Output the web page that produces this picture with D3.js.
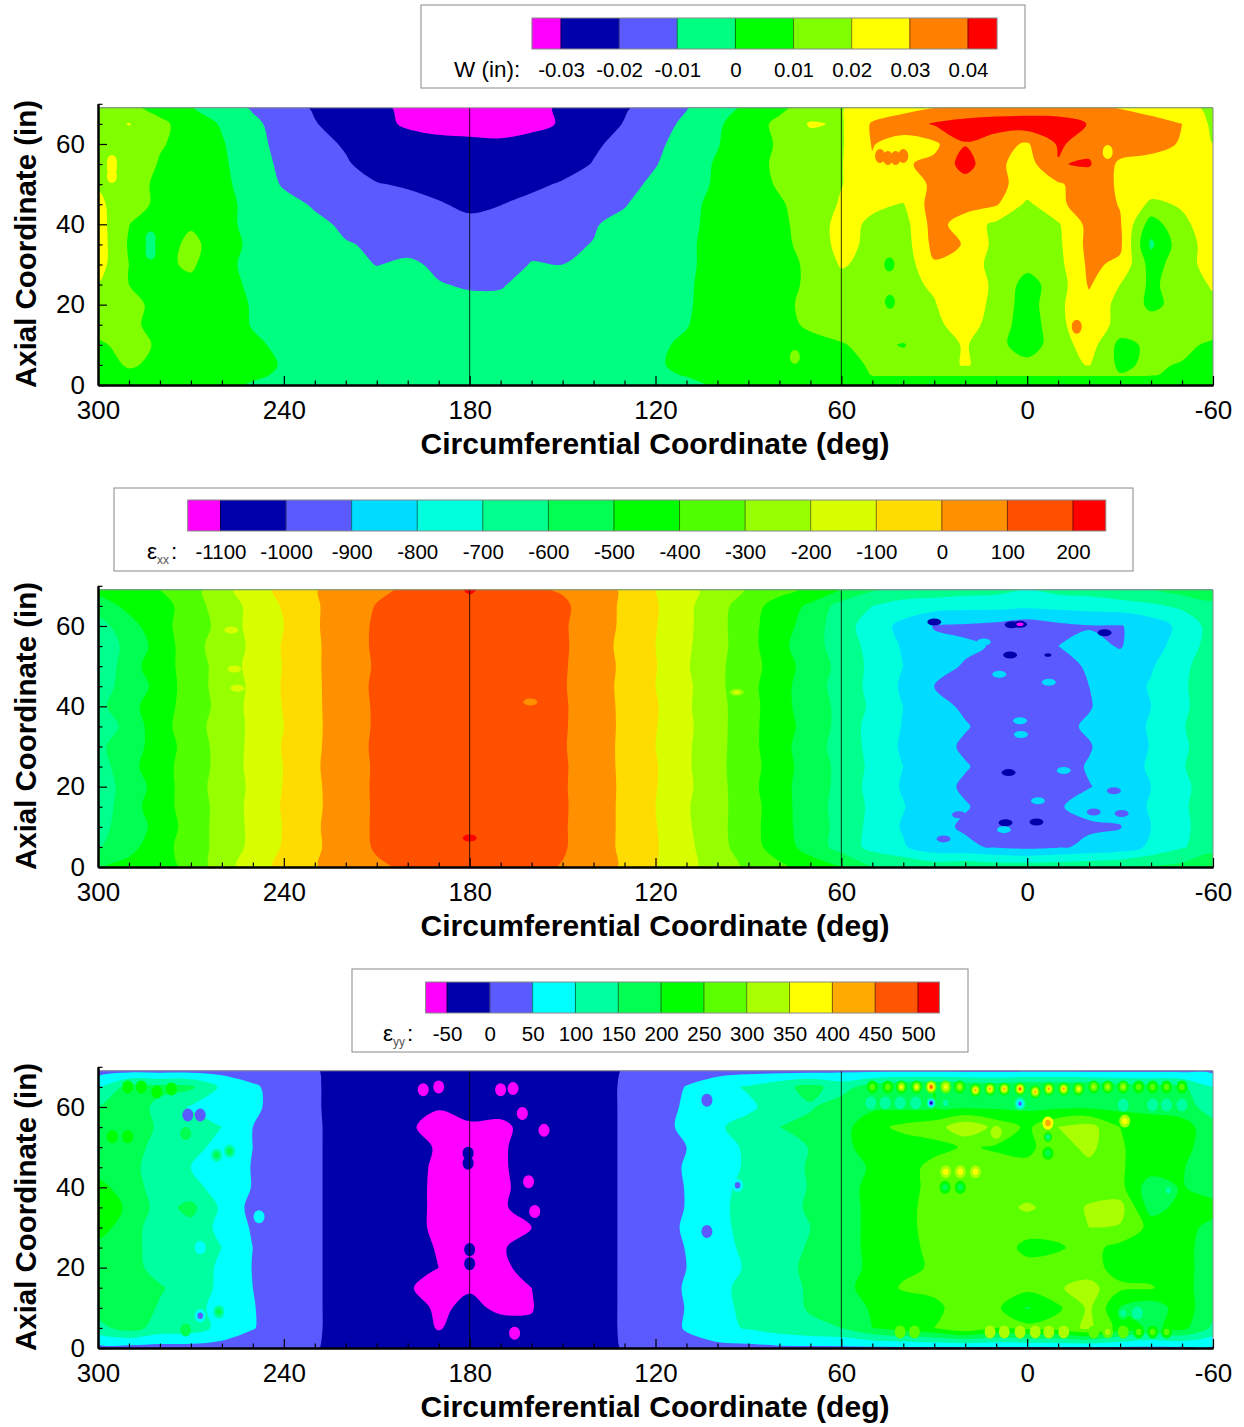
<!DOCTYPE html>
<html>
<head>
<meta charset="utf-8">
<script src="https://cdn.jsdelivr.net/npm/d3@7"></script>
<style>
  body { margin: 0; background: #fff; }
  text { font-family: "Liberation Sans", Arial, sans-serif; fill: #000; }
  .tick-label text { font-size: 26px; }
  .legend-axis text { font-size: 20.5px; }
  .axis-title { font-size: 30px; font-weight: bold; }
</style>
</head>
<body>
<div id="chart"></div>
<script>
/* DATA */
// grid nodes: columns run 300 -> -60 deg, rows run from the top of the shell down
const circumDeg = d3.range(37).map(i => 300 - 10 * i);
const axialIn = [69, 65, 60, 55, 50, 45, 40, 35, 30, 25, 20, 15, 10, 5, 0];
const axialInW = [69, 65, 60, 55, 50, 45, 40, 35, 30, 25, 20, 15, 10, 5, 2.5, 0];

const xMajor = [300, 240, 180, 120, 60, 0, -60];
const xMinor = [290, 280, 270, 260, 250, 230, 220, 210, 200, 190, 170, 160, 150, 140, 130, 110, 100, 90, 80, 70, 50, 40, 30, 20, 10, -10, -20, -30, -40, -50];
const yMajor = [0, 20, 40, 60];
const yMinor = [5, 10, 15, 25, 30, 35, 45, 50, 55, 65, 70];

// W, in thousandths of an inch
const wLevels = [-30, -20, -10, 0, 10, 20, 30, 40];
const wLabels = ["-0.03", "-0.02", "-0.01", "0", "0.01", "0.02", "0.03", "0.04"];
const wColors = ["#ff00ff", "#0000aa", "#5a5aff", "#00ff80", "#00ff00", "#80ff00", "#ffff00", "#ff8000", "#ff0000"];
const wGrid = [
  [15,12,7,0.5,-5,-11,-16,-21,-25,-29,-31,-33, -34,-34,-32,-29,-25,-21,-16,-10.5,-4,2,8,14, 19.5,24,27,29.8,32,33,34,34,32,29.5,26,23,18],
  [14,20.5,12,6,-1,-8,-14,-19.5,-24,-28,-31,-33, -34.5,-35,-33,-29,-25,-19.5,-14,-8,-1.5,6,12,21, 19,31,35,41,44,46,46,45,39.5,37,34,30,18],
  [13,15,11,6,1,-8,-12,-17,-21,-25,-27,-27.5, -27.5,-28,-26,-25,-21.5,-17,-12,-6,-0.5,6,11,16, 19,30.5,26,28,39.5,33,29,41,37,36,34,29,20],
  [15,19,9,6,2,-7,-11.5,-15.5,-19,-24,-26,-27.5, -28.5,-28,-27,-24,-19.5,-15.5,-10.5,-4.5,1,6,12,16, 19.5,29,29,32,44,32,26,39.5,41,28,26,25,22],
  [19,14,8,5,2,-4,-11,-14,-17,-19.5,-21,-24, -26,-25,-22,-19,-16.5,-13,-8,-3,1,6,11,16, 19.7,25,27,31,36,32,27,29,34,29,26,25,24],
  [22,14,8,5,2,-2,-7,-11,-13,-15,-17,-19, -22.5,-20.2,-17.5,-15,-13,-10.5,-6,-2,2,6,9,14, 21,22,19.5,35,34,31,18,28,35,29.5,18,21,25],
  [24,10.2,3,8,1.5,-1.5,-4,-8,-11.5,-13,-14,-15.5, -17,-17,-15,-13,-10.5,-8,-5,-1.5,2,5,8.5,13, 24,18,16,34,25,18,16,19,33,31,5,18,25],
  [25,9,2,14,2,-1,-4,-7,-9.5,-11,-12,-14, -15,-14,-11.5,-11,-9.8,-7,-5,-1.5,3,6,8.5,12, 24,17,15,33,29.5,17,15,18,33,32,-2,16,24],
  [24,10,7,12,1,-1,-3,-6,-8,-10.2,-9,-11, -13,-12.5,-9.7,-10,-7.5,-5.5,-4,-1.5,3,6,8,11, 21,17,14,29,26,16,13,17,32,28,6,15,25],
  [19.5,10,6,7,2,-1,-2.5,-4,-5.5,-7.5,-8,-9.7, -10.6,-10.5,-8,-7.5,-5.5,-4,-3,-1,3,6,8,11, 16,15,18,21,26,18,6,15,31,20,8,15,21],
  [17,12,8,6,3,-0.5,-2,-3,-4,-5,-6,-7.5, -8.5,-8.5,-6.5,-5,-4,-3,-2,-0.8,3,6,8,12, 15,14,16,19.5,26,17,5,18,27,17,8,13,18],
  [15,12,7,5,2.5,-0.3,-1.5,-2.5,-3,-3.5,-4,-5, -5.5,-5.5,-4.5,-3.5,-3,-2.5,-1.5,-0.3,3,6,8,11, 13,14,15,18,24,16,4,17,28,16,14,15,18],
  [8,14,8.5,5,3,0.8,-1,-2,-2.5,-3,-3,-3.5, -3.5,-3.5,-3,-3,-2.5,-2,-1,1,4,6,7,8, 9.5,12,9.5,15,21,13,5,15,25,7,12,14,7],
  [6,11,8,6,4,2,-0.5,-1.5,-2,-2,-2,-2.5, -2.5,-2.5,-2,-2,-2,-1.5,-0.5,1,3,4,5,6, 7,11,13,15,21,15,13,17,20.5,8,12,9,5],
  [5,8,6,4.5,2.5,0.8,-0.7,-1.2,-1.5,-1.5,-1.5,-1.7, -1.7,-1.7,-1.5,-1.5,-1.5,-1.2,-0.7,0.2,1.8,3.5,4,4.5, 5.5,10.3,10.5,10.5,10.5,10.5,10.5,10.5,10.5,10.5,10.3,9,4.5],
  [4,5,4,3,1,-0.5,-1,-1,-1,-1,-1,-1, -1,-1,-1,-1,-1,-1,-1,-1,0.5,3,3,3, 4,6,6,6,6,6,6,6,6,6,6,6,4]
];
// small islands the grid is too coarse for: [deg, in, value]
const wSpots = [
  [295.5, 55.5, 25], [295.5, 54, 25], [295.5, 52, 25], [283, 36.5, -5], [283, 34.5, -5], [283, 33, -5], [-26, 58, 28], [44.3, 20.7, 8], [44.5, 30, 8], [75, 7, 12], [-16, 14.5, 32],
  [50, 57.5, 33], [47.5, 57, 33], [45, 56.5, 33], [42.5, 56.5, 33], [40, 57, 33], [50, 60, 33], [48, 60, 33]
];

// eps xx, microstrain
const exxLevels = [-1100, -1000, -900, -800, -700, -600, -500, -400, -300, -200, -100, 0, 100, 200];
const exxLabels = exxLevels.map(String);
const exxColors = ["#ff00ff", "#0000aa", "#5a5aff", "#00dcff", "#00ffdc", "#00ff8c", "#00ff50", "#00ff00", "#50ff00", "#96ff00", "#d8ff00", "#ffdc00", "#ff9000", "#ff5000", "#ff0000"];
const exxGrid = [
  [-470,-430,-400,-340,-230,-150,-70,-5,40,80,115,155, 210,160,115,90,50,-15,-100,-170,-240,-310,-370,-420, -500,-590,-640,-640,-660,-670,-700,-670,-660,-620,-600,-560,-560],
  [-560,-470,-450,-340,-260,-170,-90,-10,45,105,135,160, 175,170,150,120,45,-15,-90,-180,-260,-360,-440,-520, -640,-700,-740,-760,-770,-770,-780,-770,-760,-750,-720,-680,-620],
  [-640,-540,-430,-355,-270,-165,-100,-10,50,115,145,165, 172,170,150,112,50,-18,-95,-180,-265,-370,-455,-545, -660,-745,-830,-905,-915,-930,-960,-925,-905,-905,-860,-770,-660],
  [-670,-570,-460,-340,-250,-185,-90,-15,55,115,148,168, 172,172,152,115,45,-25,-100,-185,-265,-365,-470,-565, -640,-735,-810,-880,-890,-905,-920,-900,-880,-905,-850,-745,-665],
  [-690,-540,-440,-360,-255,-170,-95,-12,45,112,142,165, 170,170,150,110,52,-20,-95,-190,-280,-355,-455,-540, -630,-725,-800,-880,-905,-920,-930,-915,-895,-870,-810,-720,-650],
  [-650,-555,-470,-345,-265,-180,-90,-15,50,118,145,165, 170,170,148,108,50,-25,-100,-180,-275,-370,-460,-560, -635,-730,-815,-900,-925,-945,-960,-945,-900,-860,-790,-710,-660],
  [-630,-530,-445,-355,-270,-170,-95,-15,48,114,145,165, 172,172,150,112,48,-20,-90,-185,-270,-360,-465,-550, -625,-720,-800,-880,-910,-950,-970,-950,-905,-860,-800,-720,-640],
  [-680,-560,-440,-340,-260,-180,-100,-18,52,112,145,168, 170,170,152,110,52,-20,-95,-180,-265,-370,-455,-540, -630,-740,-805,-870,-895,-925,-950,-920,-890,-850,-790,-710,-620],
  [-620,-545,-455,-355,-265,-175,-92,-15,50,118,146,165, 170,168,148,108,50,-22,-100,-185,-270,-365,-465,-555, -640,-730,-815,-875,-910,-940,-960,-940,-905,-860,-795,-715,-650],
  [-650,-530,-440,-350,-270,-170,-98,-12,55,112,145,165, 172,170,150,112,48,-20,-92,-185,-275,-360,-455,-550, -625,-725,-800,-870,-895,-925,-945,-925,-895,-855,-785,-705,-660],
  [-640,-570,-450,-345,-260,-182,-95,-15,48,116,148,168, 172,170,152,110,50,-18,-95,-180,-268,-365,-470,-545, -630,-735,-810,-875,-910,-940,-950,-930,-902,-880,-800,-720,-655],
  [-660,-540,-445,-350,-268,-172,-90,-18,52,113,145,165, 170,170,150,112,50,-20,-100,-190,-270,-355,-460,-555, -635,-720,-795,-865,-895,-925,-945,-905,-880,-860,-790,-715,-645],
  [-630,-555,-465,-355,-262,-178,-95,-12,50,115,147,165, 172,170,150,110,50,-20,-95,-185,-270,-360,-460,-550, -630,-730,-810,-880,-910,-930,-960,-925,-910,-905,-800,-720,-650],
  [-610,-530,-440,-350,-265,-175,-90,-15,48,112,140,160, 165,165,148,110,48,-20,-90,-175,-265,-355,-450,-540, -640,-730,-790,-865,-885,-910,-925,-910,-885,-860,-780,-710,-640],
  [-510,-470,-430,-380,-240,-150,-70,-5,40,85,115,135, 150,145,120,95,50,-15,-95,-170,-250,-320,-380,-450, -500,-600,-610,-640,-620,-640,-640,-630,-620,-610,-590,-570,-520]
];
const exxSpots = [
  [30, 61, -1040], [5, 60.3, -1040], [2.3, 60.4, -1120], [-6.7, 52.8, -1040], [5.5, 52.8, -1040], [-25, 58.3, -1040],
  [-3, 11.2, -1040], [7, 11, -1040], [6, 23.5, -1020],
  [2.3, 36.4, -880], [2, 33, -880], [-11.8, 24, -880], [-3.5, 16.5, -880], [7.5, 9.3, -880], [14, 56, -880], [-7, 46, -880], [9, 48, -880],
  [27, 7, -920], [22, 13, -920], [-21.5, 13.7, -920], [-30.5, 13.3, -920], [-21.5, 21, -920], [-28, 19, -920], [-18, 44, -920],
  [257, 59, -150], [256, 49.3, -150], [255, 44.5, -150], [93.8, 43.5, -150], [180, 7.2, 220], [160.4, 41.1, 90]
];

// eps yy, microstrain
const eyyLevels = [-50, 0, 50, 100, 150, 200, 250, 300, 350, 400, 450, 500];
const eyyLabels = eyyLevels.map(String);
const eyyColors = ["#ff00ff", "#0000aa", "#5a5aff", "#00ffff", "#00ffa0", "#00ff50", "#00ff00", "#5aff00", "#aaff00", "#ffff00", "#ffaa00", "#ff5500", "#ff0000"];
const eyyGrid = [
  [30,35,35,35,35,30,25,3,-15,-25,-35,-38, -38,-38,-35,-25,-12,2,20,30,30,35,35,35, 40,40,40,40,40,40,40,40,40,40,40,40,40],
  [90,170,165,160,90,56,32,4,-15,-25,-48,-40, -35,-48,-38,-25,-10,3,25,52,85,105,135,165, 130,175,195,200,190,185,195,195,190,180,170,160,100],
  [150,180,135,95,90,58,32,4,-15,-25,-38,-49, -45,-42,-45,-25,-10,3,25,58,85,92,120,145, 175,190,190,200,190,190,190,190,190,185,180,170,130],
  [165,190,140,125,100,50,30,5,-15,-25,-48,-55, -52,-55,-42,-25,-10,3,30,62,95,115,150,165, 180,235,262,275,340,285,240,300,320,250,235,225,165],
  [170,175,130,105,95,50,30,5,-15,-25,-35,-54, -54,-54,-38,-25,-10,3,22,50,88,105,130,152, 190,215,225,235,255,245,240,275,315,255,225,220,165],
  [175,165,125,100,85,47,28,5,-15,-25,-40,-55, -55,-54,-38,-25,-10,3,24,55,85,105,128,155, 180,205,230,265,285,265,260,265,285,255,225,205,160],
  [215,175,125,115,80,48,28,5,-15,-25,-40,-56, -60,-55,-40,-25,-10,3,28,52,88,112,135,152, 178,215,240,258,272,262,270,265,280,265,170,205,165],
  [240,190,130,165,90,35,25,5,-15,-25,-40,-56, -60,-54,-38,-25,-10,3,25,52,90,115,135,155, 175,215,240,262,270,275,310,275,305,320,175,220,225],
  [225,170,125,135,85,45,27,5,-15,-25,-40,-56, -60,-56,-50,-25,-10,3,22,58,90,112,130,150, 175,215,235,268,270,270,265,265,300,295,235,225,180],
  [180,165,130,115,100,50,30,5,-15,-25,-40,-52, -52,-53,-38,-25,-10,3,24,52,85,110,130,155, 175,215,235,262,275,270,240,245,265,235,225,220,170],
  [175,170,130,115,95,48,28,5,-15,-25,-38,-50, -52,-56,-40,-25,-10,3,20,50,82,105,135,160, 180,210,240,255,260,258,262,268,270,230,225,220,170],
  [180,185,155,125,90,50,28,5,-15,-25,-48,-58, -52,-58,-50,-25,-10,3,24,55,90,112,135,155, 180,225,255,265,300,270,265,295,320,260,255,215,175],
  [170,180,145,110,90,52,30,5,-15,-25,-40,-54, -45,-54,-52,-25,-10,3,24,52,88,110,128,155, 175,205,225,235,280,260,195,240,310,200,170,225,165],
  [135,170,130,125,85,52,30,5,-15,-25,-35,-52, -38,-42,-45,-25,-10,3,18,55,85,105,125,140, 150,200,225,250,290,250,265,275,310,230,190,215,140],
  [30,30,30,30,30,30,20,3,-15,-25,-30,-35, -35,-35,-30,-25,-10,2,20,30,35,35,40,40, 40,40,40,40,40,40,40,40,40,40,40,40,40]
];
const eyySpots = [
  // hot row near the top edge
  [50,65,270],[45,65,290],[40.6,65,360],[35.7,65,370],[31,65,470],[26.3,65,370],[21.8,65,320],[16.7,64.2,440],[12,64.5,430],[7.4,64.5,410],[2.3,64.5,470],
  [-2.6,63.8,430],[-7,64.5,410],[-11.8,64.5,420],[-16.6,64.5,360],[-21.5,65,320],[-26,65,310],[-31,65,300],[-36,65,280],[-40.5,65,280],[-45,65,280],[-50,65,270],
  // low row under it
  [50.5,61,130],[45.8,61,130],[41,61,110],[36,61,110],[31,61,-20],[26.3,61,110],[2.3,60.8,20],[-31,60.5,120],[-40.5,60.5,130],[-45,60.5,140],[-50,60.5,130],
  // scattered
  [-6.7,56,420],[-31.5,56.5,370],[10,53.7,340],[-6.7,52.5,120],[-6.7,48.5,170],[26.3,43.9,370],[21.6,43.9,380],[16.7,43.9,370],[21.6,40,190],[26.5,40,190],[-45.6,39.3,130],
  [-31,8.7,130],[-35.6,8.7,130],
  // row near the bottom edge
  [41,4,280],[36.4,4,280],[31,4,270],[26.3,4,280],[21.6,4,260],[12,4,320],[7.4,4,340],[2.3,4,330],[-2.6,4,310],[-7,4,340],[-11.8,4,300],[-16.6,4,320],[-21.5,4,290],[-26,4,300],[-31,4,280],[-36,4,280],[-40.5,4,270],[-45,4,280],
  // blue and cyan specks on the edges of the bands
  [93.5,40.5,30],[103.4,61.7,30],[103.4,29,30],[108,65.4,75],[112,9.4,75],[248,65,75],[248,32.7,75],[248,25.7,75],[248,3.9,75],
  [271,58,40],[267,58,40],[267,8,40],[267,25,90],
  [295.4,52.6,230],[290.4,52.6,230],[271.7,53.4,190],[290.4,65,215],[286,65,215],[281,63.7,215],[276.3,64.5,210],[271.7,65,180],[266.4,64.5,170],[261.7,48,160],[257.5,49,160],[271.7,4.5,180],[261,9,160],
  // magenta islands
  [195,64.3,-70],[190,65,-60],[170,64.3,-70],[166,64.6,-60],[163,58.4,-70],[156,54.2,-60],[166,41,-65],[161,41.4,-65],[159,34,-65],[165.5,3.7,-60],
  // navy holes on the 180 seam
  [180.5,48.5,-30],[180.5,46,-30],[180,24.5,-30],[180,21,-30]
];

/* CONSTANTS AND GLOBALS */
const width = 1244,
  height = 1427,
  plotLeft = 98,
  plotRight = 1213,
  inchPx = 4.017;

const panels = [
  { id: "w", rows: axialInW, grid: wGrid, levels: wLevels, labels: wLabels, colors: wColors, spots: wSpots, rx: 5, ry: 7, bottom: 385,
    box: [421, 5, 604, 83], bar: [561, 968], barTop: 18, labelX: 454, name: "W (in):" },
  { id: "exx", rows: axialIn, grid: exxGrid, levels: exxLevels, labels: exxLabels, colors: exxColors, spots: exxSpots, rx: 7, ry: 3.5, bottom: 867,
    box: [114, 488, 1019, 83], bar: [220.5, 1073], barTop: 500, labelX: 147, name: "ε", sub: "xx" },
  { id: "eyy", rows: axialIn, grid: eyyGrid, levels: eyyLevels, labels: eyyLabels, colors: eyyColors, spots: eyySpots, rx: 5.5, ry: 6.5, bottom: 1348,
    box: [352, 969, 616, 83], bar: [447, 918], barTop: 982, labelX: 383, name: "ε", sub: "yy" }
];

const svg = d3.select("#chart")
  .append("svg")
  .attr("width", width)
  .attr("height", height);

const xScale = d3.scaleLinear().domain([300, -60]).range([plotLeft, plotRight]);
// contour coordinates come back in grid index space
const colToDeg = d3.scaleLinear().domain(d3.range(circumDeg.length)).range(circumDeg);

panels.forEach(drawPanel);

/* DRAW FUNCTION */
function drawPanel(p) {
  const yScale = d3.scaleLinear().domain([0, 70]).range([p.bottom, p.bottom - 70 * inchPx]);
  const rowToIn = d3.scaleLinear().domain(d3.range(p.rows.length)).range(p.rows);
  const g = svg.append("g").attr("class", p.id);
  const top = yScale(p.rows[0]);
  const bandOf = v => d3.bisectRight(p.levels, v);

  g.append("clipPath").attr("id", "clip-" + p.id)
    .append("rect")
    .attr("x", plotLeft).attr("y", top)
    .attr("width", plotRight - plotLeft).attr("height", p.bottom - top);

  const plot = g.append("g").attr("clip-path", `url(#clip-${p.id})`);

  // lowest band sits under everything
  plot.append("rect")
    .attr("x", plotLeft).attr("y", top)
    .attr("width", plotRight - plotLeft).attr("height", p.bottom - top)
    .attr("fill", p.colors[0]);

  const contours = d3.contours()
    .size([circumDeg.length, p.rows.length])
    .thresholds(p.levels)(p.grid.flat());

  const ring = d3.line()
    .x(d => xScale(colToDeg(d[0] - 0.5)))
    .y(d => yScale(rowToIn(d[1] - 0.5)))
    .curve(d3.curveCatmullRomClosed.alpha(0.5));

  plot.selectAll("path.band")
    .data(contours)
    .join("path")
    .attr("class", "band")
    .attr("fill", (d, i) => p.colors[i + 1])
    .attr("fill-rule", "evenodd")
    .attr("d", d => d.coordinates
      .flatMap(poly => poly.map(r => ring(r.slice(0, -1))))
      .join(""));

  // islands: nested ellipses, one per band between the surrounding value and the peak
  p.spots.forEach(([deg, inch, value]) => {
    const nearCol = d3.leastIndex(circumDeg, (a, b) => Math.abs(a - deg) - Math.abs(b - deg));
    const nearRow = d3.leastIndex(p.rows, (a, b) => Math.abs(a - inch) - Math.abs(b - inch));
    const from = bandOf(p.grid[nearRow][nearCol]);
    const to = bandOf(value);
    const steps = Math.abs(to - from);
    const dir = Math.sign(to - from);
    d3.range(1, steps + 1).forEach(k => {
      const f = (steps - k + 1) / steps;
      plot.append("ellipse")
        .attr("cx", xScale(deg))
        .attr("cy", yScale(inch))
        .attr("rx", p.rx * f)
        .attr("ry", p.ry * f)
        .attr("fill", p.colors[from + dir * k]);
    });
  });

  // thin lines at the shell seams
  plot.selectAll("line.seam")
    .data([180, 60])
    .join("line")
    .attr("class", "seam")
    .attr("x1", d => xScale(d)).attr("x2", d => xScale(d))
    .attr("y1", top).attr("y2", p.bottom)
    .attr("stroke", "#000").attr("stroke-width", 0.8);

  // frame
  g.append("path")
    .attr("d", `M${plotLeft},${top}H${plotRight}V${p.bottom}`)
    .attr("fill", "none").attr("stroke", "#888").attr("stroke-width", 1);

  /* AXES */
  const xAxisG = g.append("g").attr("transform", `translate(0,${p.bottom})`);
  xAxisG.append("g").call(d3.axisBottom(xScale).tickValues(xMinor).tickSizeInner(-4.5).tickSizeOuter(0).tickFormat(""));
  xAxisG.append("g").attr("class", "tick-label")
    .call(d3.axisBottom(xScale).tickValues(xMajor).tickSizeInner(-9).tickSizeOuter(0).tickPadding(16).tickFormat(String));
  const yAxisG = g.append("g").attr("transform", `translate(${plotLeft},0)`);
  yAxisG.append("g").call(d3.axisLeft(yScale).tickValues(yMinor).tickSizeInner(-4.5).tickSizeOuter(0).tickFormat(""));
  yAxisG.append("g").attr("class", "tick-label")
    .call(d3.axisLeft(yScale).tickValues(yMajor).tickSizeInner(-9).tickSizeOuter(0).tickPadding(13).tickFormat(String));
  g.selectAll(".domain").attr("stroke-width", 2);
  g.selectAll(".tick line").attr("stroke-width", 1.2);

  g.append("text").attr("class", "axis-title")
    .attr("x", 655).attr("y", p.bottom + 69)
    .attr("text-anchor", "middle")
    .attr("textLength", 469).attr("lengthAdjust", "spacingAndGlyphs")
    .text("Circumferential Coordinate (deg)");
  g.append("text").attr("class", "axis-title")
    .attr("transform", `translate(36,${p.bottom - 141}) rotate(-90)`)
    .attr("text-anchor", "middle")
    .attr("textLength", 288).attr("lengthAdjust", "spacingAndGlyphs")
    .text("Axial Coordinate (in)");

  drawLegend(g, p);
}

/* LEGEND */
function drawLegend(g, p) {
  const [bx, by, bw, bh] = p.box;
  const barH = 31;
  const lv = p.levels;
  const step = lv[1] - lv[0];
  const bar = d3.scaleLinear().domain([lv[0], lv[lv.length - 1]]).range(p.bar);
  const edges = [lv[0] - step / 2, ...lv, lv[lv.length - 1] + step / 2];

  g.append("rect")
    .attr("x", bx).attr("y", by).attr("width", bw).attr("height", bh)
    .attr("fill", "#fff").attr("stroke", "#888").attr("stroke-width", 1);

  g.selectAll("rect.swatch")
    .data(p.colors)
    .join("rect")
    .attr("class", "swatch")
    .attr("x", (d, i) => bar(edges[i]))
    .attr("y", p.barTop)
    .attr("width", (d, i) => bar(edges[i + 1]) - bar(edges[i]))
    .attr("height", barH)
    .attr("fill", d => d);

  g.selectAll("line.sep")
    .data(lv)
    .join("line")
    .attr("class", "sep")
    .attr("x1", d => bar(d)).attr("x2", d => bar(d))
    .attr("y1", p.barTop).attr("y2", p.barTop + barH)
    .attr("stroke", (d, i) => d3.color(p.colors[i + 1]).darker(2))
    .attr("stroke-width", 1);

  g.append("rect")
    .attr("x", bar(edges[0])).attr("y", p.barTop)
    .attr("width", bar(edges[edges.length - 1]) - bar(edges[0])).attr("height", barH)
    .attr("fill", "none").attr("stroke", "#888").attr("stroke-width", 1);

  const legendAxis = g.append("g")
    .attr("class", "legend-axis")
    .attr("transform", `translate(0,${p.barTop + barH})`)
    .call(d3.axisBottom(bar).tickValues(lv).tickSize(0).tickPadding(13).tickFormat((d, i) => p.labels[i]));
  legendAxis.select(".domain").remove();

  const label = g.append("text")
    .attr("x", p.labelX)
    .attr("y", p.barTop + 59)
    .attr("font-size", 22.5);
  label.append("tspan").text(p.name);
  if (p.sub) {
    label.append("tspan").text(p.sub).attr("font-size", 12).attr("dy", 5).style("fill", "#555");
    label.append("tspan").text(":").attr("dy", -5).attr("dx", 2);
  }
}
</script>
</body>
</html>
